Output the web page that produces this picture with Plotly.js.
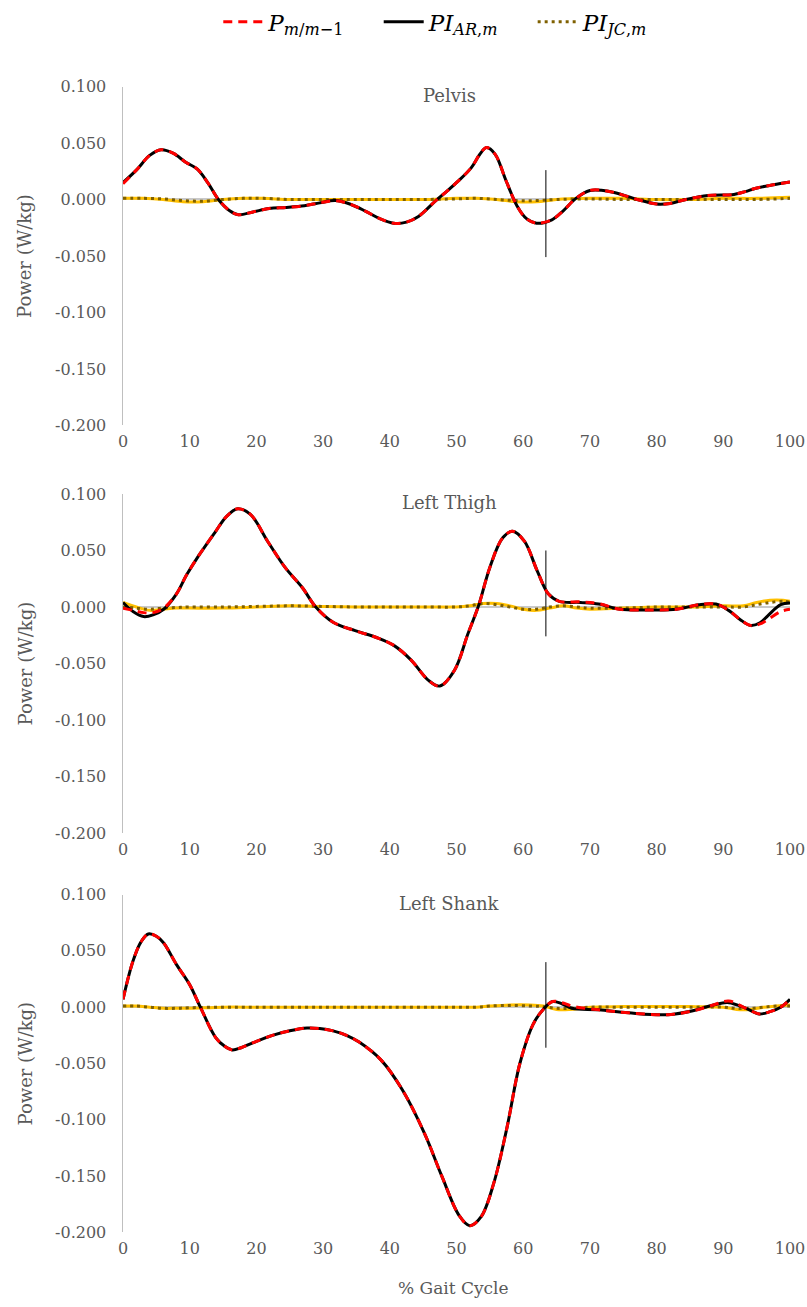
<!DOCTYPE html>
<html>
<head>
<meta charset="utf-8">
<script src="https://cdn.plot.ly/plotly-3.0.1.min.js"></script>
<style>html,body{margin:0;padding:0;background:#fff;}#chart{width:807px;height:1307px;}</style>
</head>
<body>
<div id="chart"></div>
<script>
// ---------- data ----------
const panelTitles = ['Pelvis', 'Left Thigh', 'Left Shank'];
const seriesNames = ['<i>P</i><sub><i>m</i>/<i>m</i>\u22121</sub>\u00a0\u00a0\u00a0\u00a0', '<i>PI</i><sub><i>AR</i>,<i>m</i></sub>\u00a0\u00a0\u00a0\u00a0', '<i>PI</i><sub><i>JC</i>,<i>m</i></sub>'];
const xTickVals = [0, 10, 20, 30, 40, 50, 60, 70, 80, 90, 100];
const yTickVals = [0.1, 0.05, 0, -0.05, -0.1, -0.15, -0.2];
const yTickText = ['0.100', '0.050', '0.000', '-0.050', '-0.100', '-0.150', '-0.200'];

// toe-off marker
const toeOff = 63.4;
const markerTop = [0.026, 0.050, 0.040];
const markerBottom = [-0.051, -0.026, -0.036];

// Pelvis
const pelvisX = [0, 2, 4, 5.7, 7.5, 9.4, 11.1, 12.7, 14.3, 16, 17.3, 19.5, 21.9, 24.5, 27.2, 29.5, 31.8, 34, 36.4, 38.5, 40.6, 42.5, 44.3, 46.9, 48.5, 50.2, 52.2, 53.5, 54.5, 55.8, 57.4, 59.1, 60.5, 62, 64.3, 66, 67.9, 70, 72, 73.8, 77.1, 80, 82, 84.4, 87.7, 91.6, 93.3, 94.9, 97.5, 100];
const pelvisAR = [0.015, 0.026, 0.039, 0.044, 0.041, 0.033, 0.027, 0.015, 0.000, -0.010, -0.0135, -0.011, -0.008, -0.007, -0.0055, -0.003, -0.001, -0.004, -0.0105, -0.017, -0.021, -0.020, -0.015, -0.001, 0.007, 0.016, 0.028, 0.040, 0.046, 0.040, 0.017, -0.006, -0.017, -0.021, -0.018, -0.010, 0.001, 0.008, 0.008, 0.006, 0.000, -0.004, -0.0035, 0.000, 0.0035, 0.0045, 0.007, 0.010, 0.013, 0.0155];
const pelvisP = [0.014, 0.026, 0.039, 0.044, 0.041, 0.033, 0.027, 0.015, 0.000, -0.010, -0.0135, -0.011, -0.008, -0.007, -0.0055, -0.003, -0.001, -0.004, -0.0105, -0.017, -0.021, -0.020, -0.015, -0.001, 0.007, 0.016, 0.028, 0.040, 0.046, 0.040, 0.017, -0.006, -0.017, -0.021, -0.018, -0.010, 0.001, 0.008, 0.008, 0.006, 0.000, -0.004, -0.0035, 0.000, 0.0035, 0.0045, 0.007, 0.010, 0.013, 0.0155];
const pelvisJcX = [0, 3, 6, 9, 12, 15, 18, 21, 25, 30, 35, 40, 45, 50, 53, 56, 59, 62, 65, 70, 75, 80, 85, 90, 95, 100];
const pelvisJC = [0.001, 0.001, 0.0005, -0.001, -0.0015, 0, 0.001, 0.001, 0, 0, 0, 0, 0, 0.0005, 0.001, 0, -0.001, -0.001, 0, 0.0005, 0, 0, 0, 0, 0, 0.001];
const pelvisJcBand = [0.001, 0.001, 0, -0.002, -0.002, 0, 0.001, 0.001, 0, 0, 0, 0, 0, 0.001, 0.001, 0, -0.002, -0.002, 0, 0.001, 0.001, 0, 0, 0.001, 0.001, 0.002];

// Left thigh
const thighX = [0, 1.5, 3.1, 4.5, 6.1, 8, 9.5, 11.3, 13.9, 15.5, 17.2, 19.1, 21.7, 24.3, 26.9, 28.9, 31.5, 34.8, 38, 40.6, 43.2, 45.8, 47.5, 49.7, 51.7, 53.3, 55, 56.9, 58.4, 60.2, 62.1, 63.8, 65.4, 68.6, 71.3, 74.5, 79.1, 83, 86.3, 88.9, 90.8, 92.5, 94.1, 95.5, 96.7, 98.6, 100];
const thighAR = [0.004, -0.004, -0.0085, -0.007, -0.002, 0.0114, 0.028, 0.045, 0.067, 0.080, 0.087, 0.082, 0.058, 0.035, 0.017, 0.000, -0.0135, -0.021, -0.027, -0.034, -0.047, -0.065, -0.070, -0.056, -0.024, 0.001, 0.035, 0.061, 0.067, 0.058, 0.032, 0.0114, 0.005, 0.004, 0.0026, -0.002, -0.0026, -0.002, 0.002, 0.0026, -0.003, -0.011, -0.0164, -0.014, -0.0076, 0.002, 0.0035];
const thighP = [-0.001, -0.003, -0.005, -0.005, -0.001, 0.0114, 0.028, 0.045, 0.067, 0.080, 0.087, 0.082, 0.058, 0.035, 0.017, 0.000, -0.0135, -0.021, -0.027, -0.034, -0.047, -0.065, -0.070, -0.056, -0.024, 0.001, 0.035, 0.061, 0.067, 0.058, 0.032, 0.0114, 0.005, 0.0045, 0.003, -0.002, -0.0026, -0.002, 0.002, 0.0026, -0.003, -0.011, -0.0164, -0.015, -0.011, -0.004, -0.002];
const thighJcX = [0, 2, 4, 6, 8, 10, 15, 20, 25, 30, 35, 40, 45, 50, 52, 54, 56, 58, 60, 62, 64, 66, 68, 70, 75, 80, 85, 90, 93, 95, 97, 99, 100];
const thighJC = [0.000, -0.001, -0.002, -0.001, -0.0005, 0, 0, 0.0005, 0.001, 0.0005, 0, 0, 0, 0, 0.001, 0.003, 0.002, 0, -0.002, -0.002, 0, 0.001, 0, -0.001, -0.001, 0, 0, 0, 0, 0.002, 0.004, 0.005, 0.004];
const thighJcBand = [0.004, 0.000, -0.003, -0.002, -0.001, -0.001, -0.001, 0, 0.001, 0.0005, 0, 0, 0, 0, 0.001, 0.003, 0.003, 0.001, -0.002, -0.003, -0.001, 0.001, -0.001, -0.002, -0.001, 0, 0, 0.001, 0.001, 0.004, 0.006, 0.006, 0.005];

// Left shank
const shankX = [0, 1.5, 2.7, 3.8, 5, 6.1, 8, 10, 11.6, 13.9, 15.3, 16.4, 17.7, 19.1, 22.4, 25, 27.6, 29.5, 31.5, 33.5, 35.4, 38.7, 41.9, 45.2, 47.8, 50.4, 52, 53.7, 55.6, 57.6, 59.5, 61.5, 63, 64.4, 65.8, 67.3, 71.3, 75.8, 81.7, 85.6, 88.5, 90.8, 93.4, 95.4, 97, 98.6, 100];
const shankAR = [0.007, 0.041, 0.058, 0.065, 0.063, 0.057, 0.038, 0.020, 0.000, -0.027, -0.035, -0.038, -0.036, -0.0325, -0.025, -0.021, -0.0185, -0.019, -0.021, -0.025, -0.031, -0.047, -0.0736, -0.112, -0.150, -0.185, -0.194, -0.186, -0.156, -0.106, -0.050, -0.015, -0.002, 0.005, 0.003, -0.001, -0.0023, -0.005, -0.0067, -0.003, 0.002, 0.004, -0.001, -0.006, -0.004, 0.000, 0.007];
const shankP = [0.007, 0.041, 0.058, 0.065, 0.063, 0.057, 0.038, 0.020, 0.000, -0.027, -0.035, -0.038, -0.036, -0.0325, -0.025, -0.021, -0.0185, -0.019, -0.021, -0.025, -0.031, -0.047, -0.0736, -0.112, -0.150, -0.185, -0.194, -0.186, -0.156, -0.106, -0.050, -0.015, -0.002, 0.005, 0.004, 0.001, -0.0023, -0.005, -0.0067, -0.003, 0.002, 0.0055, -0.001, -0.006, -0.004, 0.000, 0.007];
const shankJcX = [0, 2, 4, 6, 8, 10, 15, 20, 30, 40, 50, 53, 55, 58, 61, 63, 65, 67, 70, 75, 80, 85, 90, 92, 94, 96, 98, 100];
const shankJC = [0.001, 0.001, 0, -0.001, -0.001, -0.0005, 0, 0, 0, 0, 0, 0, 0.001, 0.0015, 0.001, 0.0005, -0.001, -0.001, 0, 0, 0, 0, 0, -0.001, -0.001, 0, 0.001, 0.001];
const shankJcBand = [0.001, 0.001, 0, -0.001, -0.001, -0.001, 0, 0, 0, 0, 0, 0, 0.001, 0.002, 0.002, 0.001, -0.002, -0.002, 0, 0.0005, 0.0005, 0.0005, 0, -0.002, -0.002, 0, 0.001, 0.002];

// ---------- build ----------
const panels = [
  {x: pelvisX, ar: pelvisAR, p: pelvisP, jx: pelvisJcX, jc: pelvisJC, band: pelvisJcBand},
  {x: thighX, ar: thighAR, p: thighP, jx: thighJcX, jc: thighJC, band: thighJcBand},
  {x: shankX, ar: shankAR, p: shankP, jx: shankJcX, jc: shankJC, band: shankJcBand}
];

const W = 807, H = 1307;
const xDom = [123 / W, 790 / W];
const yPix = [[79, 420], [489, 830], [892, 1232]];
const yDoms = yPix.map(([t, b]) => [1 - b / H, 1 - t / H]);

const serif = 'DejaVu Serif';
const grey = '#595959';
const traces = [];
const layout = {
  width: W, height: H,
  margin: {l: 0, r: 0, t: 0, b: 0},
  paper_bgcolor: '#fff', plot_bgcolor: 'rgba(0,0,0,0)',
  showlegend: true,
  legend: {orientation: 'h', x: 0.54, xanchor: 'center', y: 1.006, yanchor: 'top',
           font: {family: 'DejaVu Serif', size: 23, color: '#000'},
           itemwidth: 40, tracegroupgap: 0, bgcolor: 'rgba(0,0,0,0)'},
  annotations: [],
  font: {family: serif, color: grey}
};

panels.forEach((pn, i) => {
  const sx = i === 0 ? '' : String(i + 1);
  const xa = 'x' + sx, ya = 'y' + sx;
  const common = {xaxis: xa, yaxis: ya, mode: 'lines', hoverinfo: 'skip'};
  traces.push(Object.assign({}, common, {x: pn.jx, y: pn.band, showlegend: false,
    line: {color: '#FFC000', width: 3, shape: 'spline'}}));
  traces.push(Object.assign({}, common, {x: pn.jx, y: pn.jc, name: seriesNames[2], legendrank: 3,
    showlegend: i === 0, line: {color: '#7F6000', width: 3, dash: '3px,4px', shape: 'spline'}}));
  traces.push(Object.assign({}, common, {x: [toeOff, toeOff], y: [markerTop[i], markerBottom[i]], showlegend: false,
    line: {color: '#000', width: 1}}));
  traces.push(Object.assign({}, common, {x: pn.x, y: pn.ar, name: seriesNames[1], legendrank: 2,
    showlegend: i === 0, line: {color: '#000', width: 3, shape: 'spline'}}));
  traces.push(Object.assign({}, common, {x: pn.x, y: pn.p, name: seriesNames[0], legendrank: 1,
    showlegend: i === 0, line: {color: '#FF0000', width: 3, dash: '9px,6px', shape: 'spline'}}));

  layout['xaxis' + sx] = {
    domain: xDom, anchor: ya, range: [0, 100], tickvals: xTickVals, ticks: '',
    showline: false, showgrid: false, zeroline: false, fixedrange: true, ticklabelstandoff: 5,
    tickfont: {family: serif, size: 16, color: grey}
  };
  layout['yaxis' + sx] = {
    domain: yDoms[i], anchor: xa, range: [-0.2, 0.1], tickvals: yTickVals, ticktext: yTickText,
    ticks: '', showgrid: false, showline: true, linecolor: '#bfbfbf', linewidth: 1.5,
    zeroline: true, zerolinecolor: '#c9c9c9', zerolinewidth: 2, fixedrange: true, ticklabelstandoff: 12,
    tickfont: {family: serif, size: 16, color: grey}
  };
  const [top, bot] = yPix[i];
  layout.annotations.push({text: panelTitles[i], xref: 'paper', yref: 'paper', x: 449 / W, y: 1 - (top + 9) / H,
    xanchor: 'center', yanchor: 'middle', showarrow: false, font: {family: serif, size: 18, color: grey}});
  layout.annotations.push({text: 'Power (W/kg)', xref: 'paper', yref: 'paper', x: 25 / W, y: 1 - (top + bot) / 2 / H,
    xanchor: 'center', yanchor: 'middle', textangle: -90, showarrow: false, font: {family: serif, size: 18, color: grey}});
});
layout.annotations.push({text: '% Gait Cycle', xref: 'paper', yref: 'paper', x: 454 / W, y: 1 - 1288 / H,
  xanchor: 'center', yanchor: 'middle', showarrow: false, font: {family: serif, size: 17, color: grey}});

Plotly.newPlot('chart', traces, layout, {staticPlot: true, displayModeBar: false});
</script>
</body>
</html>
